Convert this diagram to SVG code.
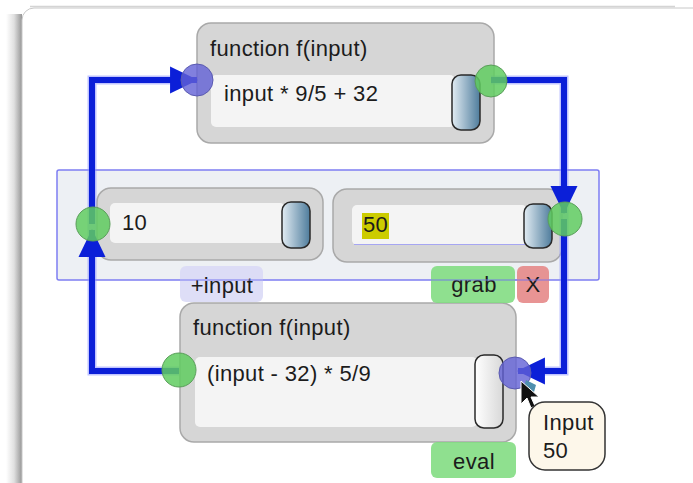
<svg xmlns="http://www.w3.org/2000/svg" width="693" height="483" viewBox="0 0 693 483">
<style>
text{font-family:"Liberation Sans",Arial,sans-serif;font-size:22px;fill:#1c1c1c;letter-spacing:0.35px}
.body{fill:#d6d6d6;stroke:#a9a9a9;stroke-width:1.5}
.inner{fill:#f4f4f4}
.thumb{fill:url(#thumbG);stroke:#2a2a2a;stroke-width:1.5}
.thumbOff{fill:url(#thumbW);stroke:#2a2a2a;stroke-width:1.5}
.pin{fill:rgb(98,96,214);fill-opacity:.8;stroke:#5a5ab0;stroke-width:1}
.pout{fill:rgb(96,204,96);fill-opacity:.85;stroke:#5a9e5a;stroke-width:1}
.halo{fill:none;stroke:#8c94ff;stroke-opacity:.55;stroke-width:9}
.wire{fill:none;stroke:#0b1fd8;stroke-width:6}
.btnG{fill:#80dc80;fill-opacity:.88}
.btnR{fill:#e58585;fill-opacity:.88}
.btnL{fill:#d8d8f6;fill-opacity:.85}
.mid{text-anchor:middle}
</style>
<defs>
<linearGradient id="thumbG" x1="0" y1="0" x2="1" y2="0">
<stop offset="0" stop-color="#e2ecf3"/><stop offset="1" stop-color="#4e7c9c"/>
</linearGradient>
<linearGradient id="thumbW" x1="0" y1="0" x2="1" y2="0">
<stop offset="0" stop-color="#ffffff"/><stop offset="1" stop-color="#d8d8d8"/>
</linearGradient>
<linearGradient id="shadowL" x1="0" y1="0" x2="1" y2="0">
<stop offset="0" stop-color="#ffffff"/><stop offset="0.5" stop-color="#e0e0e0"/><stop offset="1" stop-color="#969696"/>
</linearGradient>
<marker id="ah" markerUnits="userSpaceOnUse" markerWidth="28" markerHeight="28" viewBox="0 0 27 26" refX="26" refY="13" orient="auto">
<path d="M0,0 L27,13 L0,26 Z" fill="#0b1fd8"/>
</marker>
</defs>

<!-- background panel -->
<rect x="0" y="0" width="693" height="483" fill="#ffffff"/>
<rect x="6" y="14" width="16" height="469" fill="url(#shadowL)"/>
<line x1="30" y1="6.5" x2="675" y2="6.5" stroke="#d4d4d4" stroke-width="1.5"/>
<rect x="22" y="8" width="700" height="500" rx="12" fill="#ffffff" stroke="#c8c8c8" stroke-width="1"/>

<!-- selection box -->
<rect id="selection" x="57" y="170" width="542" height="110" rx="2" fill="#edf0f4" stroke="#7d7df2" stroke-width="1.5"/>

<!-- top function node -->
<g id="fn-top">
<rect class="body" x="197" y="23" width="297" height="120" rx="14"/>
<text x="210" y="56">function f(input)</text>
<rect class="inner" x="211" y="75" width="244" height="52" rx="5"/>
<text x="224" y="101">input * 9/5 + 32</text>
<rect class="thumb" x="452" y="75" width="28" height="55" rx="9"/>
</g>

<!-- left value node -->
<g id="val-10">
<rect class="body" x="97" y="188" width="226" height="72" rx="14"/>
<rect class="inner" x="110" y="203" width="175" height="40" rx="5"/>
<text x="122" y="230">10</text>
<rect class="thumb" x="282" y="202" width="28" height="46" rx="9"/>
</g>

<!-- right value node -->
<g id="val-50">
<rect class="body" x="333" y="189" width="229" height="73" rx="14"/>
<rect class="inner" x="352" y="205" width="175" height="40" rx="5"/>
<line x1="354" y1="244.5" x2="525" y2="244.5" stroke="#a6a6f2" stroke-width="1.2"/>
<rect x="362" y="213" width="27" height="26" fill="#cccc00"/>
<text x="363" y="232">50</text>
<rect class="thumb" x="524" y="204" width="28" height="44" rx="9"/>
</g>

<!-- bottom function node -->
<g id="fn-bottom">
<rect class="body" x="180" y="303" width="336" height="139" rx="14"/>
<text x="193" y="335">function f(input)</text>
<rect class="inner" x="195" y="357" width="282" height="70" rx="5"/>
<text x="207" y="381">(input - 32) * 5/9</text>
<rect class="thumbOff" x="475" y="355" width="28" height="73" rx="9"/>
</g>

<!-- buttons -->
<g id="btn-input">
<rect class="btnL" x="180" y="266" width="83" height="36" rx="6"/>
<text class="mid" x="222" y="293">+input</text>
</g>
<g id="btn-grab">
<rect class="btnG" x="431" y="266" width="84" height="37" rx="6"/>
<text class="mid" x="474" y="292">grab</text>
</g>
<g id="btn-x">
<rect class="btnR" x="517" y="266" width="32" height="37" rx="6"/>
<text class="mid" x="533" y="292">X</text>
</g>
<g id="btn-eval">
<rect class="btnG" x="431" y="442" width="85" height="36" rx="6"/>
<text class="mid" x="474" y="469">eval</text>
</g>
<line x1="180" y1="280" x2="263" y2="280" stroke="#7d7df2" stroke-width="1.5" stroke-opacity=".6"/>
<line x1="431" y1="280" x2="549" y2="280" stroke="#7d7df2" stroke-width="1.5" stroke-opacity=".6"/>

<!-- connectors -->
<g id="connectors">
<path class="halo" d="M491,80 H564 V371 H540"/>
<path class="halo" d="M179,371 H92 V80 H172"/>
<path class="wire" d="M491,80 H564 V213" marker-end="url(#ah)"/>
<path class="wire" d="M564,219 V371 H518" marker-end="url(#ah)"/>
<path class="wire" d="M179,371 H92 V230" marker-end="url(#ah)"/>
<path class="wire" d="M92,224 V80 H197" marker-end="url(#ah)"/>
</g>

<!-- ports -->
<g id="ports">
<circle class="pin" cx="197" cy="80" r="16"/>
<circle class="pout" cx="491" cy="81" r="16"/>
<circle class="pout" cx="93" cy="224" r="17"/>
<circle class="pout" cx="565" cy="219" r="17"/>
<circle class="pout" cx="179" cy="370" r="17"/>
<circle class="pin" cx="515" cy="373" r="16"/>
</g>

<!-- cursor -->
<g id="cursor">
<polygon points="526,380 536,385 534,392 524,387" fill="#4f8fae"/>
<polygon points="521,381 521,404 527,398 531,408 535,406 531,397 539,397" fill="#111111" stroke="#ffffff" stroke-width="1"/>
</g>

<!-- tooltip -->
<g id="tooltip">
<rect x="529" y="402" width="76" height="68" rx="16" fill="#fdf7ea" stroke="#333333" stroke-width="1.5"/>
<text x="543" y="430">Input</text>
<text x="543" y="458">50</text>
</g>
</svg>
